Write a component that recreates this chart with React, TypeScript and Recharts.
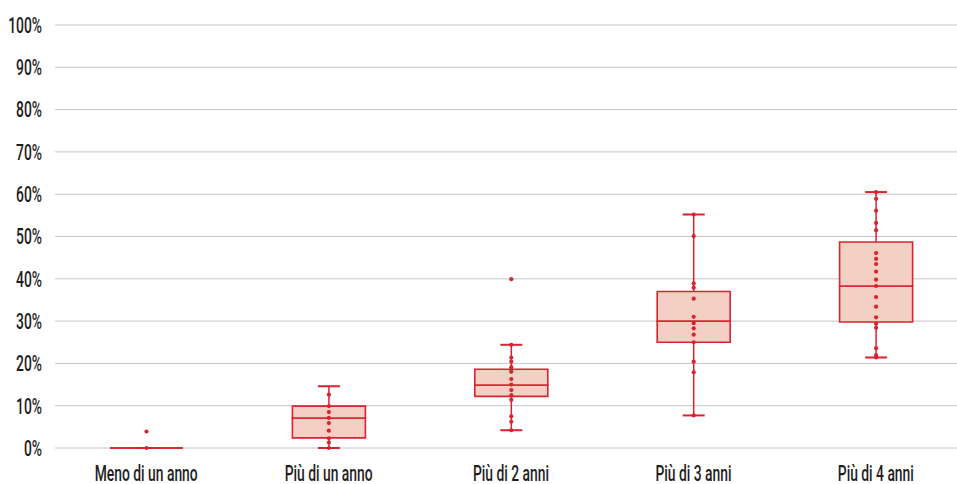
import React from 'react';
import { ComposedChart, Bar, XAxis, YAxis, CartesianGrid } from 'recharts';

const categories = ['Meno di un anno', 'Più di un anno', 'Più di 2 anni', 'Più di 3 anni', 'Più di 4 anni'];
const minValues = [0, 0, 4.2, 7.7, 21.4];
const q1Values = [0, 2.4, 12.2, 25.0, 29.8];
const medianValues = [0, 7.1, 14.9, 30.0, 38.3];
const q3Values = [0, 9.9, 18.6, 37.0, 48.7];
const maxValues = [0, 14.6, 24.4, 55.2, 60.5];

const pointsMeno = [0, 3.9];
const pointsAnno1 = [0, 1.3, 2.3, 4.1, 5.9, 7.1, 8.5, 9.9, 12.6];
const pointsAnni2 = [4.2, 6.2, 7.5, 11.4, 12.5, 13.7, 15.0, 16.3, 18.0, 18.5, 19.1, 20.4, 21.4, 24.4, 39.9];
const pointsAnni3 = [7.7, 17.9, 20.4, 25.0, 26.8, 28.3, 29.5, 31.0, 35.3, 37.9, 38.9, 50.1, 55.2];
const pointsAnni4 = [21.4, 21.9, 23.6, 28.4, 29.4, 30.9, 33.4, 35.7, 38.3, 39.8, 41.7, 43.5, 44.7, 46.1, 51.5, 53.2, 56.1, 58.9, 60.5];
const pointsByCategory = [pointsMeno, pointsAnno1, pointsAnni2, pointsAnni3, pointsAnni4];

const yTicks = [0, 10, 20, 30, 40, 50, 60, 70, 80, 90, 100];

const RED = '#d9232f';
const FILL = '#f4cfc3';
const FONT = 'Roboto, "DejaVu Sans Condensed", sans-serif';
const TEXT = '#1e1e1e';
const SX = 0.63;
const FS = 22;

const data = categories.map((name, i) => ({
  name,
  base: minValues[i],
  lowWhisker: q1Values[i] - minValues[i],
  lowBox: medianValues[i] - q1Values[i],
  highBox: q3Values[i] - medianValues[i],
  highWhisker: maxValues[i] - q3Values[i],
  points: pointsByCategory[i],
}));

const CAP = 22;

const Empty = () => <g />;

const LowWhisker = (p: any) => {
  const cx = p.x + p.width / 2;
  const bottom = p.y + p.height;
  return (
    <g>
      <line x1={cx} x2={cx} y1={p.y} y2={bottom} stroke={RED} strokeWidth={1.5} />
      <line x1={cx - CAP / 2} x2={cx + CAP / 2} y1={bottom} y2={bottom} stroke={RED} strokeWidth={2} />
    </g>
  );
};

const HighWhisker = (p: any) => {
  const cx = p.x + p.width / 2;
  return (
    <g>
      <line x1={cx} x2={cx} y1={p.y} y2={p.y + p.height} stroke={RED} strokeWidth={1.5} />
      <line x1={cx - CAP / 2} x2={cx + CAP / 2} y1={p.y} y2={p.y} stroke={RED} strokeWidth={2} />
    </g>
  );
};

const BoxPart = (p: any) => {
  const d = `M${p.x},${p.y} h${p.width} v${p.height} h${-p.width} Z`;
  return <path d={d} fill={FILL} stroke={RED} strokeWidth={1.6} />;
};

const Dots = (p: any) => {
  const entry = p.payload || p;
  const cx = p.x + p.width / 2;
  const pts: number[] = entry.points || [];
  return (
    <g>
      {pts.map((v, k) => (
        <circle key={k} cx={cx} cy={p.y + p.height * (1 - v / 100)} r={2.1} fill={RED} />
      ))}
    </g>
  );
};

const YTick = (p: any) => (
  <g transform={`translate(${p.x},${p.y})`}>
    <text transform={`scale(${SX},1)`} textAnchor="end" dy="0.355em" fontFamily={FONT} fontSize={FS} fontWeight={500} fill={TEXT}>
      {`${p.payload.value}%`}
    </text>
  </g>
);

const XTick = (p: any) => (
  <g transform={`translate(${p.x},${p.y})`}>
    <text transform={`scale(${SX},1)`} textAnchor="middle" dy="0.71em" fontFamily={FONT} fontSize={FS} fontWeight={500} fill={TEXT}>
      {p.payload.value}
    </text>
  </g>
);

export default function App() {
  return (
    <div style={{ position: 'absolute', left: 0, top: 0, width: 957, height: 484, overflow: 'hidden', background: '#fff' }}>
      <ComposedChart
        width={967}
        height={484}
        data={data}
        margin={{ top: 25, right: 0, bottom: 0, left: 0 }}
        barCategoryGap={0}
      >
        <CartesianGrid vertical={false} stroke="#c4c4c4" strokeWidth={1} />
        <XAxis
          dataKey="name"
          axisLine={false}
          tickLine={false}
          tickSize={0}
          tickMargin={17}
          height={36}
          interval={0}
          tick={XTick}
        />
        <XAxis xAxisId="pts" dataKey="name" hide />
        <YAxis
          width={55}
          domain={[0, 100]}
          ticks={yTicks}
          interval={0}
          axisLine={false}
          tickLine={false}
          tickSize={0}
          tickMargin={13}
          tick={YTick}
        />
        <Bar dataKey="base" stackId="box" barSize={73} shape={Empty} isAnimationActive={false} />
        <Bar dataKey="lowWhisker" stackId="box" barSize={73} shape={LowWhisker} isAnimationActive={false} />
        <Bar dataKey="lowBox" stackId="box" barSize={73} shape={BoxPart} isAnimationActive={false} />
        <Bar dataKey="highBox" stackId="box" barSize={73} shape={BoxPart} isAnimationActive={false} />
        <Bar dataKey="highWhisker" stackId="box" barSize={73} shape={HighWhisker} isAnimationActive={false} />
        <Bar xAxisId="pts" dataKey={() => 100} barSize={73} shape={Dots} isAnimationActive={false} />
      </ComposedChart>
    </div>
  );
}
